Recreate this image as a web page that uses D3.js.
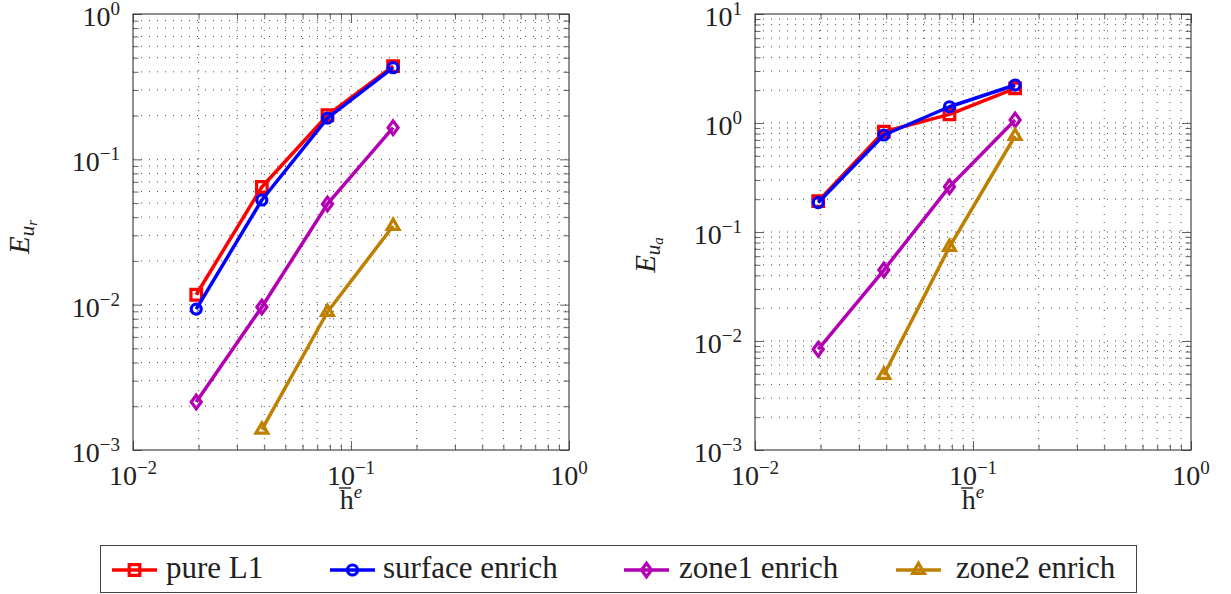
<!DOCTYPE html>
<html>
<head>
<meta charset="utf-8">
<script src="https://cdn.jsdelivr.net/npm/d3@7"></script>
<style>
  body { margin: 0; background: #fff; }
  svg { display: block; }
  svg text, svg tspan { font-family: "Liberation Serif", serif !important; }
</style>
</head>
<body>
<div id="chart"></div>
<script>
// mesh size values (x axis, shared by both panels)
var hBar = [0.0195, 0.039, 0.078, 0.156];

// E_ur (left panel), zone2 has no point at the finest mesh
var urPure = [0.0117, 0.0645, 0.201, 0.438];
var urSurface = [0.00933, 0.0525, 0.192, 0.427];
var urZone1 = [0.00214, 0.00964, 0.0493, 0.165];
var urZone2 = [null, 0.00138, 0.0089, 0.0348];

// E_ua (right panel)
var uaPure = [0.192, 0.832, 1.2, 2.08];
var uaSurface = [0.186, 0.776, 1.41, 2.23];
var uaZone1 = [0.00839, 0.0448, 0.2605, 1.066];
var uaZone2 = [null, 0.00488, 0.073, 0.76];

var seriesNames = ["pure L1", "surface enrich", "zone1 enrich", "zone2 enrich"];
var seriesColors = ["#ff0000", "#0000ff", "#b300b3", "#bf8000"];
var seriesMarks = ["square", "circle", "diamond", "triangle"];

var xTicks = [1e-2, 1e-1, 1e0];
var yTicksLeft = [1e-3, 1e-2, 1e-1, 1e0];
var yTicksRight = [1e-3, 1e-2, 1e-1, 1e0, 1e1];

var width = 1231;
var height = 594;
var FONT = "Liberation Serif";

var svg = d3.select("#chart")
  .append("svg")
  .attr("width", width)
  .attr("height", height);

// font set with priority on every text node
function setFont(sel, size, italic) {
  return sel
    .style("font-family", FONT, "important")
    .style("font-size", size + "px", "important")
    .style("font-style", italic ? "italic" : "normal", "important");
}

function txt(parent, size, italic) {
  return setFont(parent.append("text").attr("fill", "#222"), size, italic);
}

function minorTicks(decades) {
  var out = [];
  for (var i = 0; i < decades.length - 1; i++) {
    for (var k = 2; k <= 9; k++) out.push(k * decades[i]);
  }
  return out;
}

function markPath(type) {
  if (type === "square") return "M-5.3,-5.3H5.3V5.3H-5.3Z";
  if (type === "circle") return "M5,0A5,5 0 1,1 -5,0A5,5 0 1,1 5,0Z";
  if (type === "diamond") return "M0,-6.8L5,0L0,6.8L-5,0Z";
  return "M0,-6.8L5.9,3.4L-5.9,3.4Z";
}

function powLabel(sel, v) {
  var e = Math.round(Math.log10(v));
  setFont(sel.append("tspan"), 28).text("10");
  setFont(sel.append("tspan"), 19)
    .attr("dy", -11)
    .text(e < 0 ? "\u2212" + (-e) : e);
}

function drawPanel(opt) {
  var x = d3.scaleLog().domain([1e-2, 1e0]).range([opt.x0, opt.x1]);
  var y = d3.scaleLog().domain([opt.yTicks[0], opt.yTicks[opt.yTicks.length - 1]]).range([opt.y1, opt.y0]);
  var g = svg.append("g");

  var xMinor = minorTicks(xTicks);
  var yMinor = minorTicks(opt.yTicks);
  var xAllGrid = xMinor.concat(xTicks.slice(1, -1));
  var yAllGrid = yMinor.concat(opt.yTicks.slice(1, -1));

  // dotted grid
  g.selectAll(".vgrid").data(xAllGrid).enter().append("line")
    .attr("x1", function(d) { return x(d); })
    .attr("x2", function(d) { return x(d); })
    .attr("y1", opt.y0).attr("y2", opt.y1)
    .attr("stroke", "#333").attr("stroke-width", 0.9)
    .attr("stroke-dasharray", "1,7");
  g.selectAll(".hgrid").data(yAllGrid).enter().append("line")
    .attr("y1", function(d) { return y(d); })
    .attr("y2", function(d) { return y(d); })
    .attr("x1", opt.x0).attr("x2", opt.x1)
    .attr("stroke", "#333").attr("stroke-width", 0.9)
    .attr("stroke-dasharray", "1,7");

  // ticks on all four sides, pointing inward
  var axes = [
    [d3.axisBottom(x), "translate(0," + opt.y1 + ")", xTicks, xMinor],
    [d3.axisTop(x), "translate(0," + opt.y0 + ")", xTicks, xMinor],
    [d3.axisLeft(y), "translate(" + opt.x0 + ",0)", opt.yTicks, yMinor],
    [d3.axisRight(y), "translate(" + opt.x1 + ",0)", opt.yTicks, yMinor]
  ];
  axes.forEach(function(a) {
    var maj = g.append("g").attr("transform", a[1])
      .call(a[0].tickValues(a[2]).tickSize(-9).tickFormat(""));
    var min = g.append("g").attr("transform", a[1])
      .call(a[0].tickValues(a[3]).tickSize(-5.5).tickFormat(""));
    [maj, min].forEach(function(s) {
      s.select(".domain").remove();
      s.selectAll("text").remove();
      s.selectAll("line").attr("stroke", "#555").attr("stroke-width", 0.9);
    });
  });

  g.append("rect")
    .attr("x", opt.x0).attr("y", opt.y0)
    .attr("width", opt.x1 - opt.x0).attr("height", opt.y1 - opt.y0)
    .attr("fill", "none").attr("stroke", "#222").attr("stroke-width", 1);

  // tick labels
  xTicks.forEach(function(d) {
    var t = txt(g, 28)
      .attr("x", x(d))
      .attr("y", opt.y1 + 35)
      .attr("text-anchor", "middle");
    powLabel(t, d);
  });
  opt.yTicks.forEach(function(d) {
    var t = txt(g, 28)
      .attr("x", opt.x0 - 13)
      .attr("y", y(d) + 12)
      .attr("text-anchor", "end");
    powLabel(t, d);
  });

  // x label: bar-h ^ e
  var xc = (opt.x0 + opt.x1) / 2;
  var xl = txt(g, 28)
    .attr("x", xc).attr("y", 509)
    .attr("text-anchor", "middle");
  setFont(xl.append("tspan"), 28).text("h");
  setFont(xl.append("tspan"), 19, true).attr("dy", -11).text("e");
  g.append("line")
    .attr("x1", xc - 12).attr("x2", xc)
    .attr("y1", 488).attr("y2", 488)
    .attr("stroke", "#222").attr("stroke-width", 1.4);

  // y label: E_{u_r}
  var yl = txt(g, 29, true)
    .attr("transform", "translate(" + opt.labelX + "," + opt.labelY + ")rotate(-90)")
    .attr("text-anchor", "middle");
  setFont(yl.append("tspan"), 29, true).text("E");
  setFont(yl.append("tspan"), 21, true).attr("dy", 5).text("u");
  setFont(yl.append("tspan"), 15, true).attr("dy", 3).text(opt.sub);

  // series
  var line = d3.line()
    .defined(function(d) { return d[1] != null; })
    .x(function(d) { return x(d[0]); })
    .y(function(d) { return y(d[1]); });

  opt.series.forEach(function(vals, i) {
    var pts = hBar.map(function(h, j) { return [h, vals[j]]; });
    g.append("path")
      .attr("d", line(pts))
      .attr("fill", "none")
      .attr("stroke", seriesColors[i])
      .attr("stroke-width", 3.5)
      .attr("stroke-linejoin", "round");
    g.selectAll(".m" + i)
      .data(pts.filter(function(d) { return d[1] != null; }))
      .enter().append("path")
      .attr("transform", function(d) { return "translate(" + x(d[0]) + "," + y(d[1]) + ")"; })
      .attr("d", markPath(seriesMarks[i]))
      .attr("fill", "none")
      .attr("stroke", seriesColors[i])
      .attr("stroke-width", 3.2);
  });
}

drawPanel({
  x0: 133, x1: 569, y0: 14, y1: 450,
  yTicks: yTicksLeft,
  series: [urPure, urSurface, urZone1, urZone2],
  sub: "r", labelX: 29, labelY: 237
});

drawPanel({
  x0: 755, x1: 1191, y0: 14, y1: 450,
  yTicks: yTicksRight,
  series: [uaPure, uaSurface, uaZone1, uaZone2],
  sub: "a", labelX: 655, labelY: 255
});

// legend
var legendLineX = [112, 330, 624, 896];
var legendTextX = [166, 383, 679, 956];
var legend = svg.append("g");
legend.append("rect")
  .attr("x", 100.5).attr("y", 545.5)
  .attr("width", 1036).attr("height", 47)
  .attr("fill", "#fff").attr("stroke", "#444").attr("stroke-width", 1);

seriesNames.forEach(function(name, i) {
  var lx = legendLineX[i];
  legend.append("line")
    .attr("x1", lx).attr("x2", lx + 45)
    .attr("y1", 570).attr("y2", 570)
    .attr("stroke", seriesColors[i]).attr("stroke-width", 3.5);
  legend.append("path")
    .attr("transform", "translate(" + (lx + 22.5) + ",570)")
    .attr("d", markPath(seriesMarks[i]))
    .attr("fill", "none")
    .attr("stroke", seriesColors[i])
    .attr("stroke-width", 3.2);
  txt(legend, 31)
    .attr("x", legendTextX[i]).attr("y", 578)
    .text(name);
});
</script>
</body>
</html>
